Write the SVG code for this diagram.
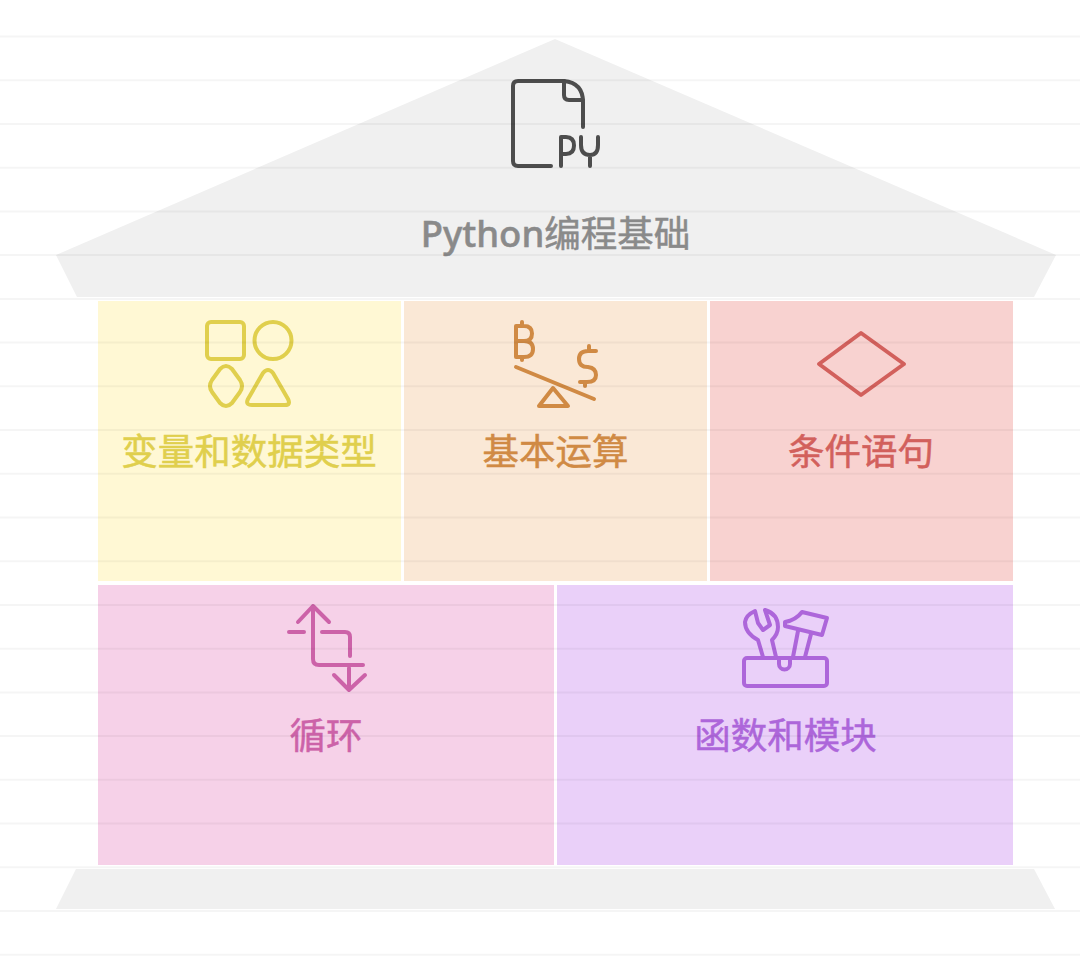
<svg xmlns="http://www.w3.org/2000/svg" width="1080" height="960" viewBox="0 0 1080 960">
<style>
text{font-family:"Noto Sans CJK SC","Noto Sans",sans-serif;font-size:36.500px;font-weight:400;text-anchor:middle;stroke-width:.5px}
.i{fill:none;stroke-width:4;stroke-linecap:round;stroke-linejoin:round}
.gl{stroke:#000;stroke-opacity:.04;stroke-width:2}
.g{fill:#f0f0f0}
</style>
<rect width="1080" height="960" fill="#fff"/>
<g id="roof"><path class="g" d="M555 39L1056 255L1034 297H77L56 255Z"/>
<g class="i" stroke="#4d4d4d"><path d="M551 166H518Q513 166 513 161V86Q513 81 518 81H564Q583 83 583 102V127"/><path d="M564 81V95Q564 100 569 100H583"/><path d="M561 166V137H566Q574 137 574 145.500Q574 154 566 154H561"/><path d="M581 137V145Q581 155 590 155Q598 155 598 145V137M590 155V166"/></g>
<text x="555.500" y="247" fill="#8a8a8a" stroke="#8a8a8a"><tspan font-family="'Noto Sans',sans-serif" font-weight="500">Python</tspan>编程基础</text></g>
<g id="n1"><rect x="98" y="301" width="303" height="280" fill="#fff8d4"/>
<g class="i" stroke="#e0cf4d"><rect x="207" y="322" width="37" height="37" rx="4"/><circle cx="273" cy="340.500" r="18.500"/><path d="M220 369Q226 363 232 369L240 380Q244 386 240 392L232 403Q226 409 220 403L212 392Q208 386 212 380Z"/><path d="M263 373Q268 367 273 373L288 399Q291 405 285 405H252Q245 405 248 399Z"/></g>
<text x="249" y="465" fill="#e0cf4d" stroke="#e0cf4d">变量和数据类型</text></g>
<g id="n2"><rect x="404" y="301" width="303" height="280" fill="#fae8d6"/>
<g class="i" stroke="#d08a44"><path d="M516 367L594 399"/><path d="M539 406L553 388L568 406Z"/><path d="M516 326V357H524Q533 357 533 349Q533 341 524 341H516M524 341Q532 341 532 333.500Q532 326 524 326H516M522 326V322M522 357V360"/><path d="M596 351H588Q579 351 579 359Q579 367 588 367Q596 368 596 375Q596 382 587 382H580M589 346V351M585 382V386"/></g>
<text x="555.500" y="465" fill="#d08a44" stroke="#d08a44">基本运算</text></g>
<g id="n3"><rect x="710" y="301" width="303" height="280" fill="#f8d2d0"/>
<path class="i" stroke="#d2605c" d="M861 333L904 364L861 395L819 364Z"/>
<text x="861" y="465" fill="#d2605c" stroke="#d2605c">条件语句</text></g>
<g id="n4"><rect x="98" y="585" width="456" height="280" fill="#f6d1e8"/>
<g class="i" stroke="#cc62a8"><path d="M298 622L313 606L329 622M313 606V659Q313 665 319 665H363"/><path d="M289 632H304M322 632H345Q350 632 350 637V656"/><path d="M334 675L349 690L365 675M349 690V668"/></g>
<text x="326" y="749" fill="#cc62a8" stroke="#cc62a8">循环</text></g>
<g id="n5"><rect x="557" y="585" width="456" height="280" fill="#ead0f9"/>
<g class="i" stroke="#ad66da"><rect x="744" y="658" width="83" height="28" rx="3"/><path d="M779 659V664A5.500 5.500 0 0 0 790 664V659"/><path d="M763 657L758 640Q745 633 745 622Q746 615 755 611L758 623L763 630L770 625L765 610Q778 614 778 627Q778 634 772 640L776 657"/><path d="M785 622Q796 620 802 612L827 618L822 635L785 626Z"/><path d="M798 631L793 657M811 634L805 657"/></g>
<text x="785.500" y="749" fill="#ad66da" stroke="#ad66da">函数和模块</text></g>
<g id="base"><path class="g" d="M76 869H1034L1055 909H56Z"/></g>
<g id="ruled-lines" class="gl"><path d="M0 36.500H1080M0 80.200H1080M0 124H1080M0 167.700H1080M0 211.400H1080M0 255.100H1080M0 298.900H1080M0 342.600H1080M0 386.300H1080M0 430H1080M0 473.800H1080M0 517.500H1080M0 561.200H1080M0 604.900H1080M0 648.700H1080M0 692.400H1080M0 736.100H1080M0 779.800H1080M0 823.600H1080M0 867.300H1080M0 911H1080M0 954.700H1080"/></g>
</svg>
